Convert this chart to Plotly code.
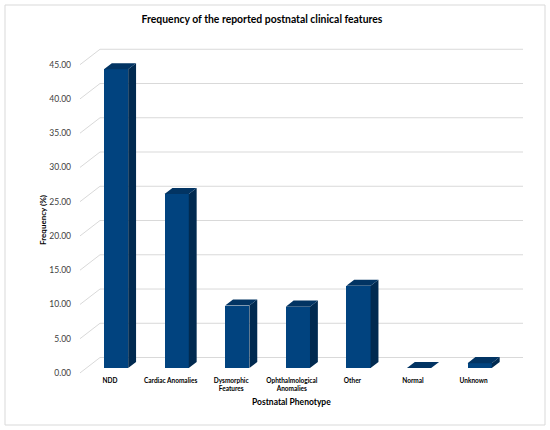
import plotly.graph_objects as go

# --- data ---
categories = ["NDD", "Cardiac Anomalies", "Dysmorphic<br>Features", "Ophthalmological<br>Anomalies",
              "Other", "Normal", "Unknown"]
frequency = [43.6, 25.4, 9.1, 8.95, 12.0, 0.0, 0.7]
y_ticks = [0, 5, 10, 15, 20, 25, 30, 35, 40, 45]

# --- geometry of the fake 3D look (axis units) ---
W, H = 550, 430
M_L, M_R, M_T, M_B = 80, 27, 40, 55
X_RANGE = [-0.495, 6.815]
Y_RANGE = [-0.3, 48.6]
BAR_SHIFT = 0.1      # bars sit a little behind the label plane
BAR_HALF = 0.2
BAR_LIFT = 0.73
DEPTH_X = 0.13
DEPTH_Y = 0.88
WALL_X = 0.33
WALL_Y = 2.25

FRONT = "#01437f"
SIDE = "#012a50"
TOP = "#023463"
GRID = "#d9d9d9"
FONT = "Lato"

fig = go.Figure()

# back wall gridlines + the slanted lines on the side wall (kept below the bars)
for k in y_ticks:
    fig.add_shape(type="path", xref="x", yref="y", layer="below",
                  path="M %f,%f L %f,%f L %f,%f" % (X_RANGE[0], k, X_RANGE[0] + WALL_X, k + WALL_Y,
                                                    X_RANGE[1], k + WALL_Y),
                  line=dict(color=GRID, width=1))

pos = [i + BAR_SHIFT for i in range(len(categories))]

# front faces
fig.add_trace(go.Bar(x=pos, y=frequency, base=BAR_LIFT, width=2 * BAR_HALF,
                     marker=dict(color=FRONT, line=dict(width=0)), showlegend=False,
                     hovertext=[c.replace("<br>", " ") for c in categories],
                     hovertemplate="%{hovertext}: %{y:.2f}<extra></extra>"))

# side and top faces
sx, sy, tx, ty = [], [], [], []
for c, v in zip(pos, frequency):
    r = c + BAR_HALF
    l = c - BAR_HALF
    b = BAR_LIFT
    sx += [r, r + DEPTH_X, r + DEPTH_X, r, r, None]
    sy += [b, b + DEPTH_Y, b + v + DEPTH_Y, b + v, b, None]
    tx += [l, l + DEPTH_X, r + DEPTH_X, r, l, None]
    ty += [b + v, b + v + DEPTH_Y, b + v + DEPTH_Y, b + v, b + v, None]
fig.add_trace(go.Scatter(x=sx, y=sy, mode="lines", fill="toself", fillcolor=SIDE,
                         line=dict(width=0, color=SIDE), hoverinfo="skip", showlegend=False))
fig.add_trace(go.Scatter(x=tx, y=ty, mode="lines", fill="toself", fillcolor=TOP,
                         line=dict(width=0, color=TOP), hoverinfo="skip", showlegend=False))

# chart area border (paper coords worked out from the pixel margins)
pw = W - M_L - M_R
ph = H - M_T - M_B
def px_x(p):
    return (p - M_L) / pw
def px_y(p):
    return (H - M_B - p) / ph

fig.add_shape(type="rect", xref="paper", yref="paper",
              x0=px_x(5), x1=px_x(545), y0=px_y(425), y1=px_y(5),
              line=dict(color=GRID, width=1), layer="below")

fig.add_annotation(text="<b>Frequency (%)</b>", xref="paper", yref="paper",
                   x=px_x(43), y=px_y(220), xanchor="center", yanchor="middle",
                   textangle=-90, showarrow=False,
                   font=dict(size=8, color="#000000"))
fig.add_annotation(text="<b>Postnatal Phenotype</b>", xref="paper", yref="paper",
                   x=px_x(291), y=px_y(402), xanchor="center", yanchor="middle",
                   showarrow=False, font=dict(size=8.5, color="#000000"))

fig.update_layout(
    width=W, height=H,
    margin=dict(l=M_L, r=M_R, t=M_T, b=M_B),
    title=dict(text="<b>Frequency of the reported postnatal clinical features</b>",
               x=262 / W, y=1 - 19 / H, xanchor="center", yanchor="middle",
               font=dict(size=10.4, color="#000000")),
    font=dict(family=FONT, color="#000000"),
    plot_bgcolor="white", paper_bgcolor="white",
    bargap=0,
    xaxis=dict(range=X_RANGE, tickmode="array", tickvals=list(range(len(categories))),
               ticktext=["<b>" + c.replace("<br>", "</b><br><b>") + "</b>" for c in categories],
               tickfont=dict(size=6.5), showgrid=False, zeroline=False, showline=False,
               ticks="", automargin=False),
    yaxis=dict(range=Y_RANGE, tickmode="array", tickvals=y_ticks,
               ticktext=["%.2f" % t for t in y_ticks], tickfont=dict(size=8.5, color="#404040"),
               showgrid=False, zeroline=False, showline=False, ticks="",
               ticklabelstandoff=8, automargin=False),
)

# the page body has a default margin; drop it so the figure sits at the window corner
fig.write_html("out.html", config={"displayModeBar": False},
               post_script="document.body.style.margin='0px';")
